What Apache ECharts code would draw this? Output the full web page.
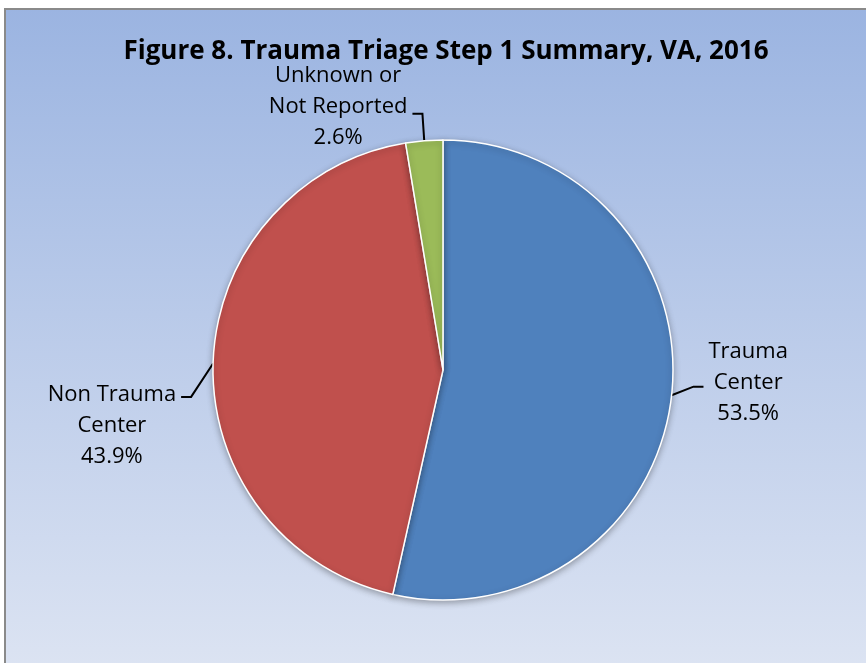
<!DOCTYPE html>
<html>
<head>
<meta charset="utf-8">
<script src="https://cdn.jsdelivr.net/npm/echarts@6/dist/echarts.min.js"></script>
<style>
  html, body { margin: 0; padding: 0; background: #fff; }
  #main { width: 866px; height: 663px; }
</style>
</head>
<body>
<div id="main"></div>
<script>
var categories = ['Trauma\nCenter', 'Non Trauma\nCenter', 'Unknown or\nNot Reported'];
var values = [53.5, 43.9, 2.6];
var colors = ['#4F81BD', '#C0504D', '#9BBB59'];

// vertical nudge of each label and of its leader line end
var labelShift = [-15, 63, -12];
var lineShift = [-11, 34, -5];

var chart = echarts.init(document.getElementById('main'));

var pieData = categories.map(function (name, i) {
  return { name: name, value: values[i], itemStyle: { color: colors[i] } };
});

var option = {
  backgroundColor: '#fff',
  animation: false,
  graphic: [{
    type: 'rect',
    z: -10,
    shape: { x: 5, y: 9, width: 880, height: 680 },
    style: {
      fill: new echarts.graphic.LinearGradient(0, 0, 0, 1, [
        { offset: 0, color: '#9BB4E1' },
        { offset: 1, color: '#DEE5F3' }
      ]),
      stroke: '#8a8a8a',
      lineWidth: 2
    }
  }],
  title: {
    text: 'Figure 8. Trauma Triage Step 1 Summary, VA, 2016',
    left: 441,
    textAlign: 'center',
    top: 34,
    textStyle: {
      fontFamily: 'Open Sans',
      fontWeight: 'bold',
      fontSize: 26,
      color: '#000'
    }
  },
  series: [{
    type: 'pie',
    center: [443, 370],
    radius: 230,
    startAngle: 90,
    clockwise: true,
    data: pieData,
    itemStyle: {
      borderColor: '#fff',
      borderWidth: 1.5,
      shadowBlur: 6,
      shadowOffsetY: 2,
      shadowColor: 'rgba(0,0,0,0.3)'
    },
    label: {
      position: 'outside',
      formatter: function (p) {
        var lines = p.name.split('\n');
        lines.push(p.value.toFixed(1) + '%');
        return lines.map(function (s) { return '{a|' + s + '}'; }).join('\n');
      },
      rich: {
        a: {
          align: 'center',
          fontFamily: 'Open Sans',
          fontSize: 22,
          lineHeight: 31,
          color: '#000'
        }
      }
    },
    labelLayout: function (params) {
      var i = params.dataIndex;
      var pts = params.labelLinePoints;
      var out = { dy: labelShift[i] };
      if (pts) {
        out.labelLinePoints = [
          pts[0],
          [pts[1][0], pts[1][1] + lineShift[i]],
          [pts[2][0], pts[2][1] + lineShift[i]]
        ];
      }
      return out;
    },
    labelLine: {
      length: 22,
      length2: 10,
      lineStyle: { color: '#000', width: 2 }
    },
    emphasis: { disabled: true }
  }]
};

chart.setOption(option);
</script>
</body>
</html>
